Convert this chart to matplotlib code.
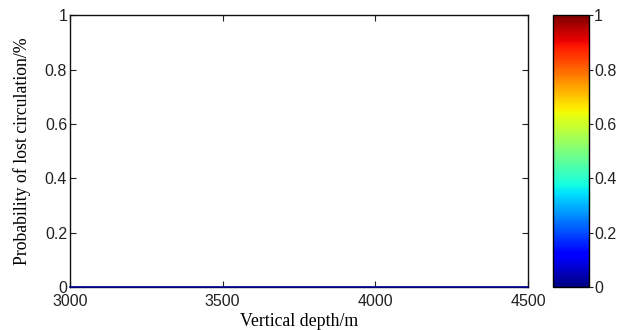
import numpy as np
import matplotlib
matplotlib.use("Agg")
import matplotlib.pyplot as plt
from matplotlib.colors import Normalize
from matplotlib.cm import ScalarMappable

x_range = [3000, 4500]
y_range = [0, 1]
x_ticks = [3000, 3500, 4000, 4500]
y_ticks = [0, 0.2, 0.4, 0.6, 0.8, 1]
y_ticklabels = ["0", "0.2", "0.4", "0.6", "0.8", "1"]
cbar_ticks = [0, 0.2, 0.4, 0.6, 0.8, 1]
cbar_ticklabels = ["0", "0.2", "0.4", "0.6", "0.8", "1"]
line_x = [3000, 4500]
line_y = [0, 0]

fig = plt.figure(figsize=(6.19, 3.30), dpi=100)
ax = fig.add_axes([0.113, 0.130, 0.740, 0.824])
ax.plot(line_x, line_y, color="#00008f", lw=1.2, clip_on=False, zorder=5)
ax.set_xlim(x_range)
ax.set_ylim(y_range)
ax.set_xticks(x_ticks)
ax.set_yticks(y_ticks)
ax.set_yticklabels(y_ticklabels)
ax.tick_params(direction="in", top=True, right=True, length=4, width=0.8,
               labelsize=11.5, colors="#222222", pad=2)
ax.tick_params(axis="x", pad=5)
for lab in ax.get_xticklabels() + ax.get_yticklabels():
    lab.set_family(["Liberation Sans", "DejaVu Sans"])
for s in ax.spines.values():
    s.set_linewidth(1.0)
    s.set_color("#111111")
ax.set_xlabel("Vertical depth/m", family=["Liberation Serif", "DejaVu Serif"],
              fontsize=12.8, labelpad=3)
ax.set_ylabel("Probability of lost circulation/%", family=["Liberation Serif", "DejaVu Serif"],
              fontsize=12.8, labelpad=10)

cax = fig.add_axes([0.893, 0.130, 0.058, 0.824])
sm = ScalarMappable(norm=Normalize(0, 1), cmap="jet")
cb = fig.colorbar(sm, cax=cax, ticks=cbar_ticks)
cb.ax.set_yticklabels(cbar_ticklabels)
cb.ax.tick_params(direction="out", length=3, width=0.8, labelsize=11.5,
                  colors="#222222", pad=1)
for lab in cb.ax.get_yticklabels():
    lab.set_family(["Liberation Sans", "DejaVu Sans"])
cb.outline.set_linewidth(1.0)

fig.savefig("out.png", dpi=100)
